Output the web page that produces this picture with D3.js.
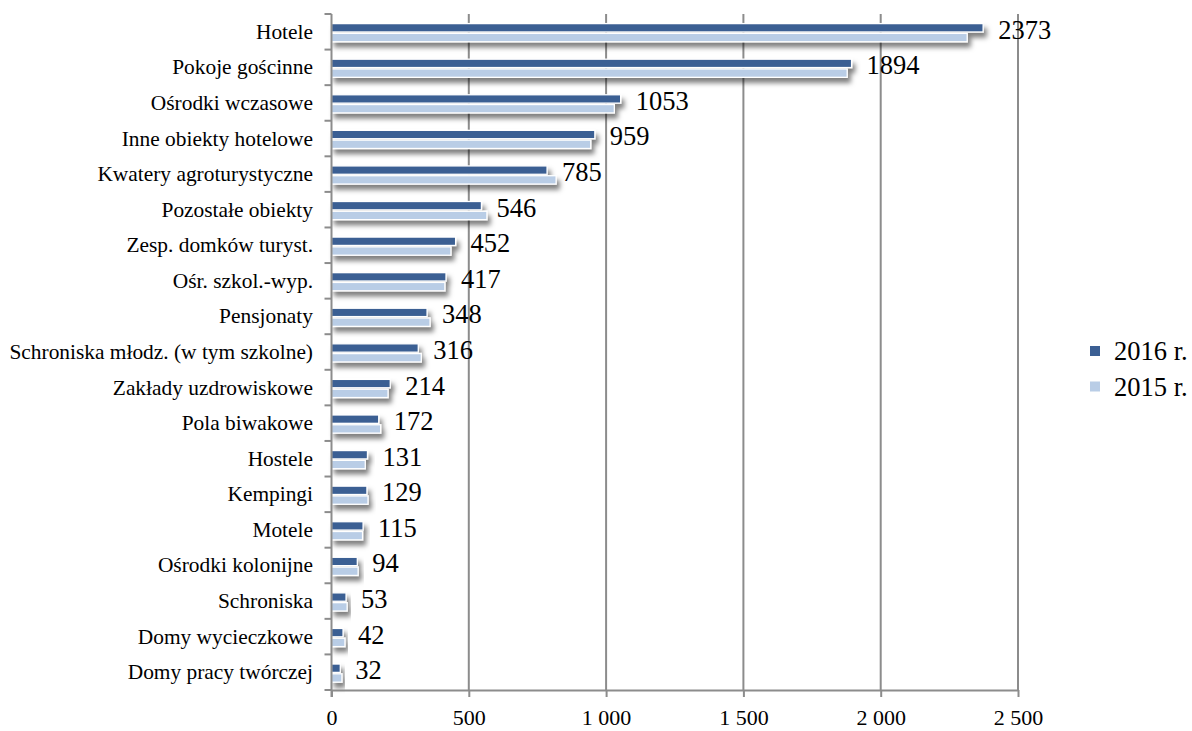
<html>
<head>
<meta charset="utf-8">
<script src="https://d3js.org/d3.v7.min.js"></script>
<style>
  body { margin: 0; background: #fff; }
  text { font-family: "Liberation Serif", "Times New Roman", serif; fill: #000; }
</style>
</head>
<body>
<svg id="chart" width="1192" height="731"></svg>
<script>
// categories, top to bottom
var categories = ["Hotele", "Pokoje gościnne", "Ośrodki wczasowe", "Inne obiekty hotelowe",
  "Kwatery agroturystyczne", "Pozostałe obiekty", "Zesp. domków turyst.", "Ośr. szkol.-wyp.",
  "Pensjonaty", "Schroniska młodz. (w tym szkolne)", "Zakłady uzdrowiskowe", "Pola biwakowe",
  "Hostele", "Kempingi", "Motele", "Ośrodki kolonijne", "Schroniska", "Domy wycieczkowe",
  "Domy pracy twórczej"];
var values2016 = [2373, 1894, 1053, 959, 785, 546, 452, 417, 348, 316, 214, 172, 131, 129, 115, 94, 53, 42, 32];
var values2015 = [2315, 1878, 1030, 944, 818, 566, 435, 413, 359, 327, 206, 179, 123, 133, 113, 97, 57, 49, 38];
var xTicks = [0, 500, 1000, 1500, 2000, 2500];
var seriesNames = ["2016 r.", "2015 r."];

var dark = "#3b5f93";
var light = "#b9cde6";
var axisGrey = "#8c8c8c";

var svg = d3.select("#chart");
var plotLeft = 331.5, plotRight = 1018, plotTop = 14, plotBottom = 690;

var xs = d3.scaleLinear().domain([0, 2500]).range([plotLeft, plotRight]);
var ys = d3.scaleBand().domain(categories).range([plotTop, plotBottom]).padding(0);
var bw = ys.bandwidth();

// shadow under the bars
var defs = svg.append("defs");
var f = defs.append("filter").attr("id", "shadow")
  .attr("x", "-10%").attr("y", "-60%").attr("width", "130%").attr("height", "280%");
f.append("feDropShadow").attr("dx", 3).attr("dy", 5).attr("stdDeviation", 2.8)
  .attr("flood-color", "#000").attr("flood-opacity", 0.5);

// vertical grid lines
svg.append("g").selectAll("line").data(xTicks.slice(1)).enter().append("line")
  .attr("x1", d => xs(d)).attr("x2", d => xs(d))
  .attr("y1", plotTop).attr("y2", plotBottom)
  .attr("stroke", axisGrey).attr("stroke-width", 2);

// bars
var rows = svg.append("g").selectAll("g").data(categories).enter().append("g")
  .attr("filter", "url(#shadow)");
rows.append("rect")
  .attr("x", xs(0))
  .attr("y", d => ys(d) + bw * 0.545)
  .attr("width", (d, i) => xs(values2015[i]) - xs(0))
  .attr("height", bw * 0.235)
  .attr("fill", light).attr("stroke", "#fff").attr("stroke-width", 1.3);
rows.append("rect")
  .attr("x", xs(0))
  .attr("y", d => ys(d) + bw * 0.27)
  .attr("width", (d, i) => xs(values2016[i]) - xs(0))
  .attr("height", bw * 0.235)
  .attr("fill", dark).attr("stroke", "#fff").attr("stroke-width", 1.3);

// value labels for 2016
svg.append("g").selectAll("text").data(categories).enter().append("text")
  .attr("x", (d, i) => xs(values2016[i]) + 15)
  .attr("y", d => ys(d) + bw * 0.4 + 10.5)
  .style("font-size", "26.5px")
  .text((d, i) => values2016[i]);

// left axis
var yAxis = svg.append("g");
yAxis.append("line")
  .attr("x1", plotLeft).attr("x2", plotLeft).attr("y1", plotTop).attr("y2", plotBottom + 7)
  .attr("stroke", axisGrey).attr("stroke-width", 2);
var bounds = categories.map(c => ys(c)).concat([plotBottom]);
yAxis.selectAll("line.tick").data(bounds).enter().append("line")
  .attr("class", "tick")
  .attr("x1", plotLeft - 7).attr("x2", plotLeft)
  .attr("y1", d => d).attr("y2", d => d)
  .attr("stroke", axisGrey).attr("stroke-width", 2);
yAxis.selectAll("text").data(categories).enter().append("text")
  .attr("x", 313)
  .attr("y", d => ys(d) + bw / 2 + 7)
  .attr("text-anchor", "end")
  .style("font-size", "21.4px")
  .text(d => d);

// bottom axis
var xAxis = svg.append("g").attr("transform", "translate(0," + plotBottom + ")")
  .call(d3.axisBottom(xs).tickValues(xTicks).tickSize(7).tickSizeOuter(0)
    .tickFormat(d => d3.format(",")(d).replace(",", " ")));
xAxis.select(".domain").attr("stroke", axisGrey).attr("stroke-width", 2);
xAxis.selectAll(".tick line").attr("stroke", axisGrey).attr("stroke-width", 2);
xAxis.selectAll(".tick text")
  .attr("y", 19).attr("dy", "0.71em")
  .style("font-size", "22px")
  .style("font-family", "'Liberation Serif', 'Times New Roman', serif")
  .attr("fill", "#000");

// legend
var legend = svg.append("g").selectAll("g").data(seriesNames).enter().append("g")
  .attr("transform", (d, i) => "translate(1090," + (346 + i * 35.5) + ")");
legend.append("rect").attr("width", 10).attr("height", 10)
  .attr("fill", (d, i) => i == 0 ? dark : light);
legend.append("text").attr("x", 24).attr("y", 14)
  .style("font-size", "26.5px")
  .text(d => d);
</script>
</body>
</html>
